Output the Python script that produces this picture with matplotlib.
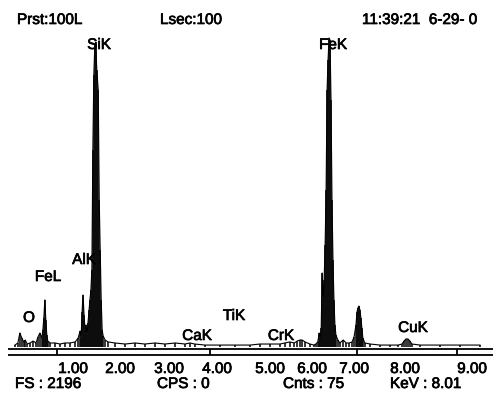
import matplotlib
matplotlib.use("Agg")
import matplotlib.pyplot as plt
import matplotlib.patheffects as pe
from matplotlib.transforms import Affine2D, blended_transform_factory

# EDS spectrum: energy (keV) and counts per channel
energy_kev = [0.06, 0.12, 0.16, 0.20, 0.24, 0.27, 0.31, 0.37, 0.43, 0.49,
              0.53, 0.57, 0.61, 0.63, 0.65, 0.67, 0.69, 0.71, 0.73, 0.78,
              0.88, 0.98, 1.08, 1.18, 1.29, 1.35, 1.39, 1.41, 1.43, 1.45,
              1.47, 1.49, 1.51, 1.53, 1.55, 1.57, 1.59, 1.61, 1.63, 1.65,
              1.67, 1.69, 1.71, 1.73, 1.76, 1.78, 1.80, 1.82, 1.84, 1.86,
              1.90, 1.96, 2.10, 2.31, 2.51, 2.71, 2.92, 3.12, 3.33, 3.53,
              3.63, 3.73, 3.94, 4.24, 4.55, 4.86, 5.06, 5.27, 5.47, 5.57,
              5.67, 5.76, 5.82, 5.88, 5.92, 5.98, 6.08, 6.16, 6.20, 6.24,
              6.27, 6.29, 6.31, 6.33, 6.35, 6.37, 6.39, 6.41, 6.43, 6.45,
              6.47, 6.49, 6.51, 6.53, 6.55, 6.57, 6.59, 6.61, 6.65, 6.69,
              6.76, 6.82, 6.88, 6.94, 6.98, 7.02, 7.04, 7.06, 7.08, 7.10,
              7.12, 7.14, 7.16, 7.20, 7.31, 7.51, 7.71, 7.88, 7.96, 8.00,
              8.04, 8.08, 8.12, 8.16, 8.33, 8.73, 9.14, 9.55]
counts = [13, 27, 94, 60, 34, 47, 20, 27, 40, 27,
          67, 94, 60, 114, 195, 316, 181, 80, 40, 27,
          27, 20, 27, 27, 34, 60, 107, 60, 235, 349,
          215, 114, 148, 80, 161, 248, 316, 383, 517, 1323,
          1827, 2028, 2048, 1860, 1726, 987, 651, 316, 114, 74,
          47, 34, 27, 20, 27, 20, 27, 20, 27, 20,
          27, 20, 13, 13, 13, 13, 20, 20, 20, 27,
          34, 27, 40, 47, 47, 34, 20, 13, 20, 34,
          94, 60, 128, 497, 316, 450, 685, 1054, 1726, 1927,
          2075, 2062, 1659, 987, 584, 316, 148, 80, 47, 27,
          47, 27, 27, 34, 67, 148, 235, 262, 275, 248,
          195, 128, 60, 27, 20, 13, 13, 13, 20, 40,
          54, 54, 40, 20, 13, 13, 13, 13]

# Element line labels
peak_labels = ["O", "FeL", "AlK", "SiK", "CaK", "TiK", "CrK", "FeK", "CuK"]

# Scale annotations
tick_labels = ["1.00", "2.00", "3.00", "4.00", "5.00", "6.00", "7.00", "8.00", "9.00"]
axis_marks_kev = [0.92, 4.04, 7.04, 9.08]

header = ["Prst:100L", "Lsec:100", "11:39:21  6-29- 0"]
footer = ["FS : 2196", "CPS : 0", "Cnts : 75", "KeV : 8.01"]

W, H = 493, 396
fig = plt.figure(figsize=(W / 100, H / 100), dpi=100)
fig.patch.set_facecolor("white")
ax = fig.add_axes([0, 0, 1, 1])
ax.set_axis_off()
ax.set_xlim(-0.245, 9.816)
ax.set_ylim(-329.1, 2330.5)

# pixel-space transform (origin top-left) for screen annotations
pix = Affine2D().scale(1 / W, -1 / H).translate(0, 1) + fig.transFigure
xpix = blended_transform_factory(ax.transData, pix)

# slightly heavy screen-style lettering
FONT = dict(family="Liberation Sans", size=11, color="black",
            path_effects=[pe.withStroke(linewidth=0.5, foreground="black")])

# spectrum
ax.vlines(energy_kev, 0, counts, color="black", lw=1.1, zorder=3)
ax.plot(energy_kev, counts, color="black", lw=0.8, zorder=3)

# energy axis: double rule with marks between
for yy in (349, 354.5):
    ax.plot([8, 493], [yy, yy], transform=pix, color="black", lw=1.3,
            solid_capstyle="butt")
ax.vlines(axis_marks_kev, 349, 354.5, transform=xpix, color="black", lw=1.3)

# element labels (pixel placement)
label_pos = {"O": (29, 318), "FeL": (48, 277), "AlK": (84, 260),
             "SiK": (99, 45), "CaK": (197, 336), "TiK": (234, 316),
             "CrK": (281, 336), "FeK": (333, 45), "CuK": (413, 328)}
for name in peak_labels:
    x, y = label_pos[name]
    ax.text(x, y, name, transform=pix, ha="center", va="center",
            zorder=2, **FONT)

tick_x = [73, 120, 169, 217, 270, 312, 354, 405, 472]
for lab, x in zip(tick_labels, tick_x):
    ax.text(x, 369, lab, transform=pix, ha="center", va="center", **FONT)

for lab, x in zip(header, [17, 160, 362]):
    ax.text(x, 20, lab, transform=pix, ha="left", va="center", **FONT)

for lab, x in zip(footer, [15, 157, 283, 390]):
    ax.text(x, 384, lab, transform=pix, ha="left", va="center", **FONT)

fig.savefig("out.png", dpi=100, facecolor="white")
